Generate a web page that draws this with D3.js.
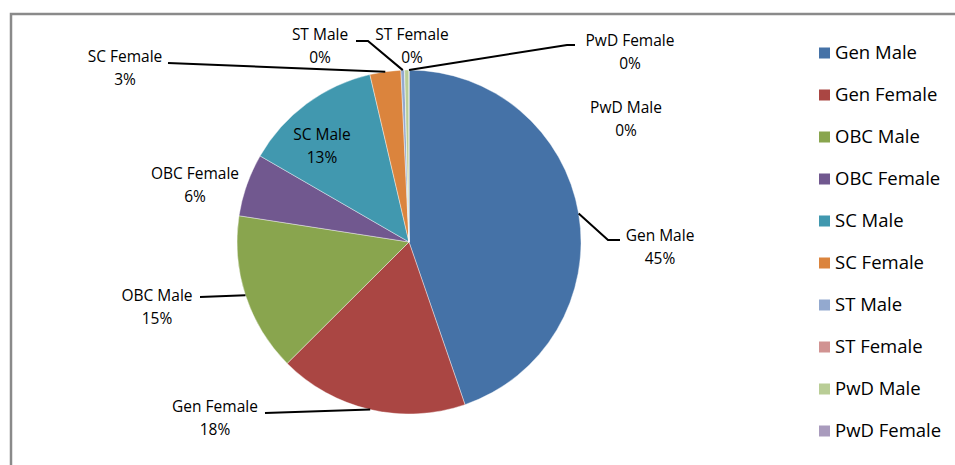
<!DOCTYPE html>
<meta charset="utf-8">
<script src="https://d3js.org/d3.v7.min.js"></script>
<style>
body { margin: 0; background: white; }
svg text { font-family: "Open Sans", "Noto Sans", sans-serif; fill: #000; }
.leader { fill: none; stroke: black; stroke-width: 2px; }
</style>
<body>
<svg width="955" height="465" id="svg"></svg>
<script>
// categories and shares (percent of total)
var categories = ["Gen Male", "Gen Female", "OBC Male", "OBC Female", "SC Male",
                  "SC Female", "ST Male", "ST Female", "PwD Male", "PwD Female"];
var shares = [44.7, 17.8, 14.9, 5.9, 13.0, 2.9, 0.35, 0.0, 0.4, 0.0];
var colors = ["#4572A7", "#AA4643", "#89A54E", "#71588F", "#4198AF",
              "#DB843D", "#93A9CF", "#D19392", "#B9CD96", "#A99BBD"];

// where Excel put each data label (centre of the name line) and its leader bend
var labelX = [660, 215, 157, 195, 322, 125, 320, 412, 626, 630];
var labelY = [236, 407, 296, 174, 135, 57, 35, 35, 108, 41];
var leaderBend = [[608, 240], null, null, null, null, null, [368, 41], null, null, [567, 45]];
var leaderEnd = [[620, 240], [265, 413], [200, 297], null, null, [168, 63], [356, 41], null, null, [575, 45]];

var data = categories.map(function(c, i) { return {name: c, value: shares[i], i: i}; });

var svg = d3.select("#svg");

// chart frame
svg.append("rect")
    .attr("x", 11).attr("y", 14)
    .attr("width", 960).attr("height", 470)
    .attr("fill", "white")
    .attr("stroke", "#8a8a8a")
    .attr("stroke-width", 2.5);

var cx = 409, cy = 242, r = 172;

var pie = d3.pie().sort(null).value(function(d) { return d.value; });
var arcs = pie(data);
var arc = d3.arc().innerRadius(0).outerRadius(r);

var g = svg.append("g").attr("transform", "translate(" + cx + "," + cy + ")");

g.selectAll("path")
    .data(arcs)
    .enter().append("path")
    .attr("d", arc)
    .attr("fill", function(d) { return colors[d.data.i]; })
    .attr("stroke", "white")
    .attr("stroke-width", 0.4);

// leader lines from the slice edge at its mid angle
arcs.forEach(function(a) {
    var i = a.data.i;
    if (!leaderEnd[i]) return;
    var mid = (a.startAngle + a.endAngle) / 2;
    var pts = [[cx + r * Math.sin(mid), cy - r * Math.cos(mid)]];
    if (leaderBend[i]) pts.push(leaderBend[i]);
    pts.push(leaderEnd[i]);
    svg.append("path")
        .attr("class", "leader")
        .attr("d", d3.line()(pts));
});

var fmt = d3.format(".0f");
var labels = svg.append("g").attr("text-anchor", "middle").style("font-size", "15.5px");
data.forEach(function(d) {
    var t = labels.append("text")
        .attr("x", labelX[d.i])
        .attr("y", labelY[d.i]);
    t.append("tspan").attr("x", labelX[d.i]).attr("dy", "0.35em").text(d.name);
    t.append("tspan").attr("x", labelX[d.i]).attr("dy", "1.45em").text(fmt(d.value) + "%");
});

// legend
var legend = svg.append("g")
    .selectAll("g")
    .data(data)
    .enter().append("g")
    .attr("transform", function(d, i) { return "translate(819," + (53 + i * 42) + ")"; });

legend.append("rect")
    .attr("y", -5.5)
    .attr("width", 11)
    .attr("height", 11)
    .attr("fill", function(d) { return colors[d.i]; });

legend.append("text")
    .attr("x", 16)
    .attr("dy", "0.35em")
    .style("font-size", "18.5px")
    .text(function(d) { return d.name; });
</script>
</body>
